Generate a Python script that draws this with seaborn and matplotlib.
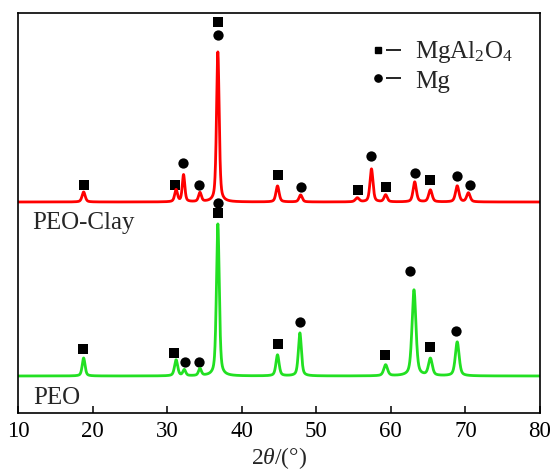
import numpy as np
import pandas as pd
import matplotlib
matplotlib.use("Agg")
import matplotlib.pyplot as plt
import seaborn as sns

# ---------------- data ----------------
two_theta_min, two_theta_max = 10, 80
x_ticks = [10, 20, 30, 40, 50, 60, 70, 80]

# PEO-Clay (offset trace, top)
clay_baseline = 211
clay_peak_pos = [18.8, 31.2, 32.2, 34.4, 36.8, 44.8, 47.9, 55.5, 57.4, 59.3, 63.2, 65.3, 68.9, 70.4]
clay_peak_h = [10, 12, 27, 9, 150, 16, 7, 4, 33, 7, 20, 12, 16, 9]
clay_peak_w = [0.5, 0.45, 0.4, 0.45, 0.42, 0.5, 0.5, 0.6, 0.48, 0.5, 0.52, 0.55, 0.55, 0.55]

# PEO (bottom trace)
peo_baseline = 37
peo_peak_pos = [18.8, 31.2, 32.3, 34.4, 36.8, 44.8, 47.8, 59.3, 63.1, 65.3, 68.9]
peo_peak_h = [18, 16, 6, 7, 152, 21, 43, 11, 86, 17, 34]
peo_peak_w = [0.45, 0.5, 0.45, 0.45, 0.45, 0.5, 0.48, 0.6, 0.62, 0.6, 0.6]

# phase markers (2theta, level)
clay_spinel_x = [18.8, 31.0, 36.8, 44.8, 55.6, 59.3, 65.3]
clay_spinel_y = [228, 228, 391, 238, 223, 226, 233]
clay_mg_x = [32.1, 34.3, 36.8, 47.9, 57.3, 63.2, 68.9, 70.6]
clay_mg_y = [250, 228, 378, 226, 257, 240, 237, 228]

peo_spinel_x = [18.7, 30.9, 36.8, 44.8, 59.2, 65.3]
peo_spinel_y = [64, 60, 200, 69, 58, 66]
peo_mg_x = [32.4, 34.3, 36.8, 47.8, 62.6, 68.7]
peo_mg_y = [51, 51, 210, 91, 142, 82]

sample_names = ["PEO-Clay", "PEO"]
phase_names = ["MgAl$_2$O$_4$", "Mg"]
x_label = r"2$\mathit{\theta}$/(°)"


# ---------------- build traces from peak list ----------------
def pattern(x, base, pos, h, w, eta=0.5):
    y = np.full_like(x, float(base))
    for p, a, fw in zip(pos, h, w):
        g = np.exp(-4 * np.log(2) * ((x - p) / fw) ** 2)
        l = 1.0 / (1.0 + 4 * ((x - p) / fw) ** 2)
        y += a * (eta * l + (1 - eta) * g)
    return y


x = np.linspace(two_theta_min, two_theta_max, 4201)
df = pd.concat([
    pd.DataFrame({"two_theta": x, "I": pattern(x, clay_baseline, clay_peak_pos, clay_peak_h, clay_peak_w),
                  "sample": sample_names[0]}),
    pd.DataFrame({"two_theta": x, "I": pattern(x, peo_baseline, peo_peak_pos, peo_peak_h, peo_peak_w),
                  "sample": sample_names[1]}),
])

marks = pd.concat([
    pd.DataFrame({"x": clay_spinel_x + peo_spinel_x, "y": clay_spinel_y + peo_spinel_y, "phase": "spinel"}),
    pd.DataFrame({"x": clay_mg_x + peo_mg_x, "y": clay_mg_y + peo_mg_y, "phase": "mg"}),
])

# ---------------- style ----------------
sns.set_style("ticks")
plt.rcParams["font.family"] = ["Liberation Serif", "DejaVu Serif"]
plt.rcParams["mathtext.fontset"] = "custom"
plt.rcParams["mathtext.rm"] = "Liberation Serif"
plt.rcParams["mathtext.it"] = "Liberation Serif:italic"
plt.rcParams["axes.linewidth"] = 1.2

W, H = 550, 473
fig = plt.figure(figsize=(W / 100, H / 100), dpi=100)
ax_l, ax_r, ax_t, ax_b = 18, 540, 13, 413
ax = fig.add_axes([ax_l / W, (H - ax_b) / H, (ax_r - ax_l) / W, (ax_b - ax_t) / H])

sns.lineplot(data=df, x="two_theta", y="I", hue="sample",
             palette={sample_names[0]: "#ff0000", sample_names[1]: "#22e022"},
             linewidth=2.0, legend=False, ax=ax, sort=False, estimator=None)

sns.scatterplot(data=marks[marks.phase == "spinel"], x="x", y="y", marker="s", color="black",
                s=48, linewidth=0, ax=ax, legend=False)
sns.scatterplot(data=marks[marks.phase == "mg"], x="x", y="y", marker="o", color="black",
                s=55, linewidth=0, ax=ax, legend=False)

ax.set_xlim(two_theta_min, two_theta_max)
ax.set_ylim(0, 400)
ax.set_xticks(x_ticks)
ax.set_yticks([])
ax.set_ylabel("")
ax.set_xlabel(x_label, fontsize=17, labelpad=2)
ax.tick_params(axis="x", direction="in", length=5, width=1.1, labelsize=16.5, pad=6,
               top=False, colors="black")
for s in ax.spines.values():
    s.set_visible(True)
    s.set_color("black")

ax.text(11.9, 190, sample_names[0], fontsize=18, va="center", ha="left")
ax.text(12.0, 15, sample_names[1], fontsize=18, va="center", ha="left")


# legend drawn as markers + dash + text
def axfrac(px, py):
    return (px - ax_l) / (ax_r - ax_l), (ax_b - py) / (ax_b - ax_t)


for (mk, ms), py_mark, py_base, label in [(("s", 4.6), 50, 58, phase_names[0]),
                                           (("o", 5.2), 78, 88, phase_names[1])]:
    mx, my = axfrac(378, py_mark)
    ax.plot([mx], [my], marker=mk, color="black", markersize=ms, ls="none",
            transform=ax.transAxes, clip_on=False)
    d0x, d0y = axfrac(386, py_mark)
    d1x, _ = axfrac(401, py_mark)
    ax.plot([d0x, d1x], [d0y, d0y], color="black", lw=1.2, solid_capstyle="butt",
            transform=ax.transAxes, clip_on=False)
    tx, ty = axfrac(415, py_base)
    ax.text(tx, ty, label, transform=ax.transAxes, fontsize=18, va="baseline", ha="left")

fig.savefig("out.png", dpi=100)
